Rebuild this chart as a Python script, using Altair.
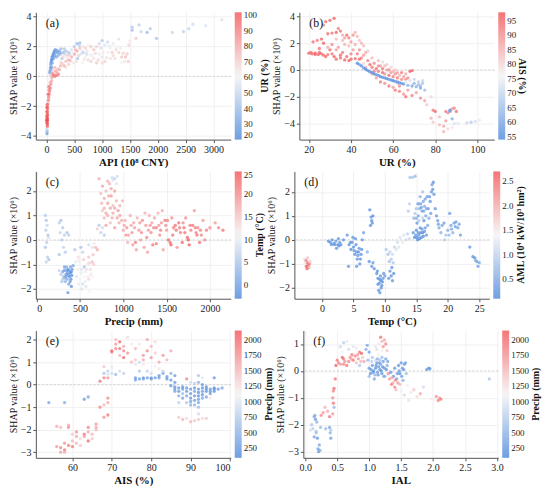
import altair as alt
import pandas as pd

# ---------------- data ----------------
# panel (a): API (10^8 CNY), SHAP value, UR (%)
pts_a = [
    (10,-3.85,30),(12,-3.7,38),(8,-3.55,50),(15,-3.35,98),(10,-3.15,100),(18,-3.0,99),(8,-2.9,100),(20,-2.85,97),
    (12,-2.75,100),(25,-2.6,95),(15,-2.5,96),(10,-2.35,100),(22,-2.2,93),(18,-2.05,95),(12,-1.9,98),(28,-1.85,90),
    (5,-3.0,100),(14,-2.95,100),(6,-2.65,99),(20,-3.2,97),(16,-2.4,94),(9,-2.1,99),
    (35,-1.6,92),(40,-1.4,90),(50,-1.2,88),(55,-1.0,92),(45,-0.9,85),(70,-0.8,90),(60,-0.65,80),(80,-0.5,88),
    (65,-0.4,75),(90,-0.3,82),(55,-0.2,60),(100,-0.1,80),(75,0.0,70),(110,0.05,85),(60,0.2,45),(130,0.1,90),
    (150,0.0,92),(170,0.05,88),(200,0.1,90),(220,0.15,85),(190,0.2,80),(85,0.3,65),(120,0.4,70),(40,-0.7,88),(30,-1.2,95),
    (70,0.45,30),(80,0.8,28),(90,1.1,25),(100,1.3,30),(120,1.5,28),(140,1.7,25),(160,1.8,30),(200,1.6,32),
    (230,1.7,35),(110,0.9,40),(130,1.2,35),(250,1.5,38),(180,1.3,35),(300,1.6,40),(280,1.2,45),(95,0.6,35),
    (150,1.4,32),(210,1.4,38),(350,1.7,42),(400,1.6,45),
    (150,0.6,75),(200,0.5,72),(250,0.7,78),(300,0.8,70),(350,1.0,75),(400,1.1,80),(450,1.3,78),(500,1.5,82),
    (550,1.7,80),(600,1.9,75),(350,0.6,65),(400,0.8,70),(250,1.0,60),(450,1.8,55),(500,2.0,45),(550,2.2,40),
    (600,2.25,42),(650,2.0,65),(420,1.5,50),(480,0.9,65),(560,1.2,45),(620,1.5,55),(700,1.3,60),(750,1.1,68),
    (800,1.0,70),(850,1.2,65),(900,0.9,72),(700,1.9,70),(750,2.1,62),(800,2.0,72),(850,1.8,75),(900,2.0,70),
    (950,2.2,50),(1000,2.4,45),(1050,2.1,55),(1100,2.3,50),(1150,1.9,60),(1200,2.2,65),(1250,1.8,68),(1300,1.6,70),
    (1350,1.3,72),(1400,1.0,65),(1000,1.3,55),(1050,1.0,70),(1100,1.6,62),(1200,1.4,68),(1450,1.5,72),(1480,2.1,70),
    (1500,2.4,60),(1000,0.9,68),(650,0.9,60),(950,1.5,58),(1300,2.5,55),(1350,0.9,60),(300,1.3,68),(380,1.4,72),
    (520,1.8,76),(580,1.4,70),(660,1.6,48),(720,1.5,52),(820,1.4,58),(1150,1.2,66),
    (60,0.3,32),(75,0.6,30),(85,0.95,26),(105,1.15,28),(115,1.35,27),(135,1.55,29),(170,1.65,31),(190,1.75,33),
    (240,1.6,36),(260,1.85,40),(320,1.85,44),(330,1.5,50),(360,1.25,62),(430,1.05,74),(470,1.6,60),(540,1.0,66),
    (590,2.1,48),(630,1.75,58),(680,1.15,64),(730,1.7,66),(780,1.45,62),(830,1.9,60),(880,1.55,68),(930,1.1,70),
    (980,1.9,52),(1020,1.6,64),(1080,1.25,66),(1130,2.05,58),(1180,1.6,70),(1230,1.2,66),(1270,2.0,62),
    (1330,1.9,64),(1380,1.55,70),(1420,1.3,74),(1470,1.0,72),(270,0.9,72),(320,0.7,76),(230,0.45,80),
    (170,0.35,82),(110,0.2,86),
    (1540,3.3,45),(1540,3.1,42),(1665,3.45,48),(1864,3.2,45),(1807,2.95,40),(1977,2.55,42),(2261,2.95,50),
    (2460,3.0,48),(2557,3.2,50),(2630,3.5,52),(2858,3.4,55),(3150,3.8,55),(1608,2.55,72),(1494,2.3,62),(1700,3.0,50),
]

# panel (b): UR (%), SHAP value, AIS (%)
pts_b = [
    (20,1.25,95),(21.5,1.2,96),(23,1.15,94),(24.5,1.15,95),(26,1.2,93),(22,2.1,94),(24,2.2,92),(26,2.3,95),
    (27,2.0,96),(27,3.35,90),(28,3.6,94),(30,3.7,95),(32,3.85,96),(29,2.7,94),(31,2.75,93),(33,2.8,95),
    (34,3.1,92),(35,2.9,94),(30,1.5,95),(32,1.0,96),(33,0.8,95),(35,0.9,94),(36,1.3,92),(37,1.9,85),
    (38,2.6,95),(39,2.4,92),(40,2.1,88),(41,2.6,90),(42,2.8,85),(43,2.5,84),(44,2.2,83),(45,2.0,85),
    (46,1.8,84),(38,1.0,95),(40,0.8,96),(42,0.85,94),(44,1.5,90),(36,2.2,84),(34,1.7,88),(31,1.2,93),
    (29,1.7,86),(33,2.3,84),(41,1.5,88),(39,0.7,95),(43,1.2,93),(28,1.0,95),(25,1.6,94),(37,0.75,96),
    (45,0.9,90),(47,1.3,86),
    (21,1.3,93),(23,1.25,96),(25,1.3,95),(27,1.1,94),(29,1.15,92),(31,1.9,90),(33,1.5,88),(35,1.1,95),
    (36,2.6,86),(37,2.4,88),(39,1.8,84),(40,1.2,92),(42,1.9,86),(44,0.8,95),(46,1.1,88),(48,1.4,82),
    (48,0.7,92),(49,0.4,95),(50,0.2,93),(51,0.5,90),(52,0.1,94),(53,-0.1,92),(54,0.3,88),(55,-0.2,95),
    (56,-0.3,90),(57,0.0,86),(58,-0.4,94),(59,-0.2,88),(60,-0.5,92),(61,-0.3,90),(62,-0.6,93),(63,-0.4,85),
    (64,-0.7,90),(65,-0.5,88),(66,-0.3,86),(67,-0.6,90),(68,-0.1,96),(69,-0.05,95),(50,-0.3,85),(52,-0.6,88),
    (54,-0.9,92),(56,-1.0,90),(58,-1.2,93),(60,-1.3,88),(62,-1.0,80),(53,0.7,84),(55,0.6,80),(57,0.4,82),
    (59,0.2,80),(61,0.0,82),(47,0.2,84),(49,-0.1,82),(46,0.5,80),
    (50,0.9,84),(51,-0.1,92),(53,0.3,90),(55,0.1,93),(56,0.3,84),(58,0.0,90),(60,-0.1,85),(62,-0.2,88),
    (64,-0.2,92),(66,-0.7,90),(63,-1.2,90),(61,-1.5,93),
    (43,0.5,56),(45,0.3,57),(47,0.05,56),(49,-0.15,58),(51,-0.3,56),(53,-0.4,57),(55,-0.55,58),(57,-0.65,56),
    (59,-0.75,57),(61,-0.85,58),(63,-0.95,57),(65,-1.05,58),(67,-1.15,62),(69,-1.2,60),(71,-1.25,62),
    (73,-1.35,60),(75,-1.5,65),(70,-0.7,70),(72,-0.9,68),(74,-1.0,66),(68,-0.8,72),(66,-0.9,74),(72,-1.1,65),
    (44,0.4,58),(46,0.15,57),(48,-0.05,56),(50,-0.2,57),(52,-0.35,58),(54,-0.5,56),(56,-0.6,57),(58,-0.7,58),
    (60,-0.8,56),(62,-0.9,57),(64,-1.0,58),(70,-1.0,63),(73,-1.2,64),(74,-0.8,70),
    (63,-1.6,92),(65,-1.8,90),(67,-1.5,88),(69,-1.9,92),(71,-1.7,88),(73,-2.1,90),(75,-2.3,86),(66,-2.0,94),
    (76,-2.6,82),(78,-2.0,80),
    (79,-3.0,92),(80,-3.1,95),(78,-3.6,85),(79,-3.9,82),(82,-4.1,84),(84,-4.2,86),(85,-3.8,88),(85,-3.1,92),
    (86,-3.2,90),(87,-3.0,55),(87,-3.1,60),(88,-2.9,88),(89,-2.85,92),(90,-3.1,94),(88,-3.65,62),(89,-4.0,72),
    (90,-4.0,75),(84,-4.6,85),(86,-4.4,80),(88,-4.3,78),(82,-3.5,84),(95,-3.95,70),(97,-3.9,68),(99,-3.85,72),
    (101,-3.75,74),(91,-4.0,74),
]

# panel (c): Precip (mm), SHAP value, Temp (°C)
pts_c = [
    (100,1.0,6),(110,0.8,5),(120,0.6,7),(105,0.4,6),(130,0.2,5),(115,-0.1,6),(100,-0.3,5),(125,-0.7,6),
    (110,-0.9,7),(140,-0.8,5),(135,0.1,8),(260,0.7,6),(280,0.8,5),(300,0.5,6),(270,0.3,7),(320,0.2,6),
    (350,0.3,5),(290,0.0,6),(310,-0.3,7),(330,-0.5,6),(260,-0.6,5),(370,0.2,6),
    (300,-1.3,2),(320,-1.1,1),(340,-1.4,0),(360,-1.2,-1),(380,-1.5,0),(400,-1.3,-2),(390,-1.1,1),(350,-1.6,2),
    (330,-1.7,3),(370,-1.8,1),(400,-1.9,-1),(360,-2.15,0),(410,-1.2,0),(280,-1.4,6),(290,-1.7,5),(310,-1.5,4),
    (420,-1.05,1),(345,-1.25,-1),(385,-1.35,-2),(395,-1.6,-1),(260,-1.25,7),(300,-1.6,6),(330,-1.2,5),
    (315,-1.25,1),(335,-1.5,0),(355,-1.35,1),(375,-1.25,-1),(365,-1.45,0),(345,-1.1,2),(385,-1.7,0),
    (325,-1.55,3),(405,-1.45,-1),
    (450,-0.9,10),(480,-0.7,13),(500,-1.0,11),(520,-1.2,9),(540,-0.8,14),(560,-1.3,10),(580,-1.0,12),(600,-0.7,15),
    (620,-1.2,13),(640,-0.9,16),(460,-1.5,9),(500,-1.6,11),(530,-1.8,8),(560,-1.7,10),(590,-1.5,12),(520,-2.0,9),
    (610,-2.1,11),(470,-1.2,12),(550,-1.1,5),(510,-0.3,5),(530,-0.5,7),(600,-0.2,8),(640,-0.3,9),(660,-0.15,12),
    (680,-0.3,16),(700,-0.4,17),(440,-0.4,6),(600,-1.6,13),(640,-1.5,11),(660,-1.0,14),
    (490,-0.85,12),(515,-1.35,10),(545,-1.5,11),(575,-1.2,13),(605,-0.95,14),(625,-1.4,12),(485,-1.8,10),
    (570,-1.9,9),(650,-0.6,15),
    (720,2.5,17),(740,1.9,16),(760,2.2,18),(780,1.7,17),(800,2.0,16),(820,1.5,18),(840,2.3,17),(860,1.8,19),
    (880,1.4,16),(900,2.0,18),(920,1.6,17),(940,1.2,19),(960,1.0,18),(980,0.8,17),(760,1.2,15),(780,0.9,16),
    (800,0.6,18),(820,1.0,17),(850,0.7,16),(870,2.55,8),(880,2.45,9),(900,2.5,7),(920,2.3,9),(930,2.6,8),
    (720,0.6,6),(740,0.3,7),(760,0.5,8),(780,0.2,6),(700,0.45,14),(880,1.1,18),(900,0.5,18),(950,0.7,17),
    (990,1.6,16),(820,2.4,17),(860,2.1,18),(750,1.5,16),
    (780,1.3,17),(800,1.1,18),(830,1.8,17),(850,1.3,18),(870,0.9,17),(900,1.3,18),(930,0.9,18),(960,1.4,17),
    (1000,0.4,18),(1020,0.8,17),(1040,0.5,19),(1060,0.2,18),(1080,1.0,17),(1100,0.3,19),(1120,0.7,18),(1140,-0.1,21),
    (1160,0.9,17),(1180,0.4,19),(1200,0.0,18),(1220,0.8,20),(1240,-0.3,18),(1260,0.6,19),(1280,-0.5,18),(1300,1.0,17),
    (1320,0.3,20),(1340,-0.2,22),(1360,0.9,18),(1380,0.5,21),(1400,1.1,17),(1420,0.2,20),(1440,0.7,19),(1460,-0.4,18),
    (1480,0.8,21),(1500,0.4,19),(1520,0.0,23),(1540,-0.1,22),(1560,0.9,20),(1580,0.5,21),(1600,0.6,22),(1620,-0.3,19),
    (1640,0.7,22),(1660,0.3,21),(1680,-0.1,23),(1700,0.5,22),(1720,0.9,20),(1740,0.1,23),(1760,-0.2,24),(1780,0.4,21),
    (1800,0.6,22),(1820,1.2,19),(1840,0.3,21),(1860,0.5,20),(1880,-0.1,22),(1900,0.2,21),(1920,0.8,19),(1940,0.0,20),
    (1960,0.4,21),(2000,0.5,20),(2060,0.7,19),(2100,0.5,20),(2150,0.4,22),(1050,-0.1,17),(1150,-0.4,18),(1250,1.1,17),
    (1330,0.7,18),(1450,1.2,17),(1550,-0.2,24),(1750,0.0,24),(1270,0.1,20),(1380,-0.15,21),
    (1010,0.6,18),(1030,0.2,19),(1090,0.6,18),(1110,-0.2,19),(1130,0.5,18),(1190,0.7,19),(1210,0.3,20),
    (1290,0.4,19),(1310,0.6,19),(1350,0.5,20),(1410,0.6,19),(1430,0.4,21),(1490,0.6,20),(1510,0.8,21),
    (1570,0.2,22),(1610,0.4,22),(1650,0.5,21),(1690,0.7,20),(1710,0.3,22),(1770,0.6,21),(1830,0.5,21),
    (1850,0.2,22),(1890,0.4,21),
]

# panel (d): Temp (°C), SHAP value, AML
pts_d = [
    (-2.6,-0.85,2.5),(-2.4,-0.95,2.6),(-2.2,-1.05,2.4),(-2.5,-1.1,2.6),(-2.0,-1.0,2.3),(-2.3,-0.75,1.8),
    (-2.7,-0.95,1.5),(-2.1,-1.15,2.0),(-2.8,-0.8,1.2),(-1.9,-0.9,1.7),(-2.4,-1.2,2.5),
    (1.0,-0.05,0.3),(1.3,-0.1,0.25),(1.6,0.0,0.3),(1.9,-0.15,0.3),(2.2,-0.05,0.35),(2.5,-0.2,0.3),(2.8,-0.1,0.35),
    (3.0,-0.2,0.3),(2.3,-0.35,0.3),(2.6,0.05,0.35),(3.4,0.0,0.3),(1.5,-0.2,0.28),(2.0,-0.2,0.3),(2.7,-0.25,0.3),
    (4.0,0.2,0.3),(4.3,-0.2,0.3),(4.6,-0.4,0.25),(4.9,0.1,0.3),(5.0,-0.3,0.25),(5.2,-0.6,0.3),(5.4,-0.2,0.3),
    (5.6,-0.8,0.25),(5.8,-0.5,0.3),(6.0,-1.0,0.3),(6.2,-0.6,0.25),(6.4,0.0,0.35),(5.5,-1.1,0.3),(4.8,-0.1,0.3),
    (6.6,0.3,0.4),(4.2,-1.1,0.3),(5.3,0.05,0.35),(5.9,-0.35,0.3),(6.1,-0.8,0.28),
    (4.5,-0.1,0.3),(5.1,-0.45,0.3),(5.7,-0.65,0.3),(6.3,-0.4,0.3),(5.5,-0.5,0.28),
    (7.6,1.25,0.25),(7.8,0.95,0.3),(7.9,0.8,0.25),(8.0,0.7,0.3),(8.1,1.0,0.25),(7.7,0.6,0.3),(7.5,-0.9,0.3),
    (7.9,-1.1,0.3),(8.3,-1.2,0.3),(8.1,-0.95,0.35),(7.2,-0.5,0.6),
    (8.7,-1.4,0.3),(8.9,-1.6,0.25),(9.1,-1.8,0.3),(9.3,-1.5,0.3),(9.5,-1.9,0.25),(9.7,-1.6,0.35),(9.0,-2.1,0.3),
    (9.2,-2.2,0.3),(9.8,-1.4,0.3),(8.8,-1.3,0.3),(9.4,-1.7,0.3),(10.0,-1.5,0.4),
    (9.2,-1.65,0.3),(9.6,-1.75,0.3),(8.9,-1.85,0.3),(9.4,-2.0,0.3),
    (10.2,-0.4,0.9),(10.5,-0.6,0.8),(10.8,-0.5,1.0),(11.0,-0.8,0.9),(11.2,-0.6,1.1),(11.5,-0.3,1.0),(11.8,-0.4,1.2),
    (12.0,-0.1,1.1),(10.7,-0.9,0.8),(11.3,-0.95,0.9),
    (10.8,-1.3,0.3),(11.0,-1.5,0.25),(11.2,-1.7,0.3),(11.4,-1.4,0.3),(11.1,-1.15,0.3),(10.6,-1.6,0.3),
    (12.4,0.1,1.2),(12.8,-0.1,1.3),(13.0,0.2,1.2),(13.4,0.0,1.1),(13.6,0.25,1.0),(13.9,0.05,1.1),(12.2,-0.3,1.2),
    (13.7,1.2,0.9),(13.9,1.5,1.0),(14.0,2.6,0.8),(14.4,2.6,0.9),(14.8,2.65,0.7),
    (14.5,0.3,0.3),(14.7,0.1,0.25),(15.0,0.4,0.3),(15.2,0.0,0.25),(15.4,0.2,0.3),(15.6,0.5,0.25),(15.8,0.1,0.3),
    (16.0,0.3,0.25),(15.1,0.7,0.3),(15.3,1.0,0.5),(15.5,1.3,0.6),(15.7,1.5,0.5),(15.9,1.2,0.4),(16.1,1.6,0.5),
    (16.3,1.4,0.6),(16.5,1.0,0.5),(16.7,1.8,0.4),(15.2,1.5,0.7),(15.6,1.8,0.6),(16.0,2.0,0.8),(14.8,1.1,0.9),
    (16.2,0.8,0.3),(16.4,0.5,0.35),(16.6,0.2,0.3),(16.8,0.6,0.5),(17.0,0.9,0.6),(15.4,0.8,0.9),(16.0,0.9,1.0),
    (15.0,1.3,0.8),(14.6,0.9,0.7),(16.9,1.3,0.4),
    (14.9,0.2,0.3),(15.1,0.1,0.25),(15.3,0.3,0.3),(15.5,0.05,0.25),(15.7,0.3,0.28),(15.9,0.45,0.3),
    (16.1,0.15,0.25),(16.3,0.35,0.3),(15.4,1.5,0.5),(15.8,1.35,0.45),(16.2,1.2,0.5),(16.4,1.7,0.45),
    (15.0,0.9,0.6),(16.6,1.3,0.5),
    (17.2,1.6,0.3),(17.4,2.0,0.35),(17.5,2.3,0.4),(17.7,2.4,0.3),(17.8,1.9,0.35),(17.3,1.1,0.4),(18.0,1.3,0.3),
    (18.2,1.0,0.35),(17.1,1.8,0.35),(17.6,2.1,0.3),
    (18.4,0.8,0.4),(18.6,0.5,0.5),(18.9,0.3,0.6),(19.1,0.6,0.5),(19.4,0.7,0.4),(19.7,0.2,0.8),(20.0,0.4,0.6),
    (20.3,1.1,0.4),(20.5,0.6,0.5),(20.8,0.3,0.6),(21.0,0.7,0.35),(21.3,0.75,0.4),(21.6,0.5,0.45),(22.0,0.2,0.4),
    (19.5,0.0,0.9),(20.2,0.2,0.7),(21.8,0.65,0.5),(18.5,0.65,0.45),(20.6,0.45,0.5),(21.2,0.55,0.4),
    (23.5,-0.3,0.3),(24.0,-0.7,0.25),(24.3,-0.75,0.3),(24.6,-0.9,0.35),(24.8,-1.1,0.4),(25.0,-0.95,0.5),(24.4,-0.85,0.6),
]

# panel (e): AIS (%), SHAP value, Precip (mm)
pts_e = [
    (54,-0.8,400),(58,-0.8,450),(63,-0.65,350),(64,-0.55,400),
    (56,-2.75,1700),(56,-1.85,1600),(57,-2.8,1800),(57,-3.0,1650),(57,-1.9,1500),(58,-2.9,1900),(58,-2.6,1700),
    (58,-3.0,1600),(59,-2.7,1850),(59,-1.9,1750),(59,-1.8,1600),(60,-2.75,1900),(60,-2.5,1500),(60,-2.2,1400),
    (61,-2.1,1750),(61,-2.3,1600),(61,-2.6,1500),(62,-2.7,1400),(62,-2.4,1300),(63,-2.2,1900),(63,-2.3,1700),
    (64,-1.9,1800),(64,-2.5,2000),(64,-2.1,1600),(65,-2.2,1500),(65,-2.4,1400),(66,-1.75,1700),(66,-1.9,1600),
    (66,-2.0,1500),
    (67,-1.0,1800),(67,0.15,1900),(68,-1.45,1700),(68,-0.9,1500),(68,0.3,1800),(68,0.8,1400),(69,-0.6,1800),
    (69,-0.8,1600),(69,-1.35,1900),(69,0.3,1700),(69,0.45,1000),(70,0.5,900),
    (70,1.5,2000),(70,1.45,1900),(70,0.8,1200),(71,1.6,1800),(71,1.8,1700),(71,2.0,1500),(72,1.9,2000),
    (72,1.6,1900),(72,1.3,1500),(72,0.6,900),(73,1.5,1800),(73,1.2,2000),(73,1.7,1600),(73,0.5,800),
    (74,1.4,1700),(74,2.1,1300),(75,1.0,1500),(75,1.8,1200),(71,0.45,600),(69,0.6,800),(68,0.5,700),(70,0.7,1100),
    (76,0.2,400),(76,0.9,1000),(76,1.1,1400),(77,0.25,350),(77,1.0,900),(77,0.6,700),(78,0.25,400),(78,1.1,1600),
    (78,1.3,1700),(78,0.9,1200),(79,0.3,350),(79,1.5,1800),(79,2.0,1600),(79,0.6,800),(80,0.3,400),(80,1.2,1700),
    (80,1.7,1500),(80,0.5,900),(81,0.3,350),(81,1.4,1400),(81,0.8,1100),(82,0.4,300),(82,1.0,1600),(82,0.7,1200),
    (83,0.5,400),(83,1.3,1700),(83,0.6,800),(84,0.35,350),(84,1.1,1500),(85,0.2,300),(85,0.5,500),(85,1.5,1600),
    (76,1.6,1500),(81,1.9,1300),(77,1.8,1200),
    (76,0.3,300),(78,0.3,350),(80,0.25,300),(82,0.3,350),(84,0.25,300),
    (86,0.1,300),(86,-0.1,250),(86,-0.3,400),(87,-0.15,300),(87,-0.5,500),(87,-0.8,800),(87,-1.45,1400),
    (88,-0.2,300),(88,-0.4,600),(88,-0.6,350),(88,-1.55,1500),(89,0.25,1800),(89,-0.3,300),(89,-0.5,400),
    (89,-0.8,700),(90,-0.2,300),(90,-0.6,250),(90,-1.65,1500),(90,-0.9,500),(91,-0.3,400),(91,-0.7,350),
    (91,-1.6,1400),(92,0.4,700),(92,0.1,500),(92,-0.2,300),(92,-0.5,250),(92,-0.8,400),(92,-1.0,600),
    (92,-1.3,900),(93,0.0,300),(93,-0.3,350),(93,-0.6,400),(93,-1.5,1300),(94,-0.1,250),(94,-0.3,300),
    (94,-0.55,400),(94,-1.5,1400),(95,-0.2,300),(95,-0.4,350),(95,-0.6,1200),(96,0.3,300),(96,-0.15,300),
    (96,-0.3,250),(97,-0.2,300),(98,-0.15,400),(86,0.4,350),(85,-0.05,300),(91,0.05,800),(93,0.3,1000),(90,0.1,900),
    (86,-0.2,300),(87,-0.3,300),(88,-0.1,250),(89,-0.15,300),(90,-0.4,300),(91,-0.15,300),(91,-0.5,300),
    (92,-0.35,250),(92,-0.65,350),(93,-0.15,250),(93,-0.45,300),(94,-0.2,250),(95,-0.3,300),(96,-0.2,250),
    (90,-0.75,400),(91,-0.9,500),(89,-1.5,1300),(92,-1.55,1400),
]

# panel (f): IAL, SHAP value, Precip (mm)
pts_f = [
    (0.1,-2.0,700),(0.12,-2.15,800),(0.14,-1.7,400),(0.15,-1.65,500),(0.16,-1.8,300),(0.17,-2.3,600),
    (0.18,-1.9,500),(0.19,-2.5,300),(0.2,-2.9,350),(0.21,-3.0,300),(0.22,-2.75,400),(0.23,-2.95,500),
    (0.17,-2.25,700),(0.08,-2.2,900),(0.14,-2.45,400),(0.24,-2.1,600),
    (0.25,-1.65,1800),(0.28,-1.55,1700),(0.31,-1.35,1500),(0.35,-1.5,1600),(0.38,-1.7,1900),(0.32,-2.15,600),
    (0.38,-2.1,400),(0.39,-2.3,500),(0.4,-2.5,350),(0.4,-2.2,700),(0.43,-1.6,1700),(0.44,-1.2,1900),
    (0.43,-1.0,1800),(0.44,-0.75,1800),(0.45,-0.65,2000),(0.45,-1.35,600),(0.47,-0.3,1900),(0.48,0.2,2000),
    (0.5,0.4,1900),(0.52,0.3,1800),
    (0.55,0.25,1700),(0.58,0.5,2000),(0.6,0.25,1800),(0.62,0.35,1700),(0.65,0.2,1900),(0.55,0.9,900),
    (0.58,0.7,1100),(0.6,1.05,800),(0.65,1.1,1200),(0.68,0.8,900),(0.7,0.5,1700),(0.72,0.45,1600),
    (0.75,0.4,1900),(0.78,0.55,1800),(0.8,0.3,1500),(0.82,0.6,1700),(0.85,0.7,1900),(0.88,0.65,2000),
    (0.9,0.5,1400),(0.92,0.35,1600),(0.95,0.8,500),(0.97,0.95,400),(1.0,0.7,350),(0.98,0.4,600),
    (0.85,0.2,700),(0.75,0.9,1000),(0.8,0.85,1200),
    (0.6,0.45,1900),(0.68,0.35,1800),(0.73,0.6,1900),(0.83,0.45,1700),(0.87,0.35,1500),
    (1.0,0.1,300),(1.02,-0.1,250),(1.05,0.2,350),(1.07,0.0,300),(1.08,-0.3,400),(1.1,0.1,250),(1.12,0.3,300),
    (1.13,-0.05,350),(1.15,0.15,300),(1.17,0.05,250),(1.18,0.25,400),(1.2,-0.1,300),(1.22,0.35,350),
    (1.24,0.1,300),(1.26,0.45,400),(1.28,0.2,500),(1.05,0.5,700),(1.1,0.4,900),(1.15,0.6,1100),(1.2,0.5,600),
    (1.0,-0.2,600),(1.04,0.35,800),(1.09,-0.15,500),(1.25,-0.2,700),
    (1.03,0.05,300),(1.06,-0.05,250),(1.11,0.2,300),(1.14,-0.15,300),(1.16,0.3,350),(1.19,0.0,300),
    (1.21,0.15,250),(1.23,-0.2,400),(1.27,0.05,300),(1.29,0.35,400),(1.13,0.45,500),(1.17,0.4,700),
    (1.12,0.8,1300),(1.15,1.0,1200),(1.18,1.25,1900),(1.2,1.1,1500),(1.22,0.9,1700),(1.24,1.15,1600),
    (1.26,1.0,1800),(1.28,0.75,1400),(1.1,0.9,1000),(1.2,0.75,1100),
    (1.3,-0.1,1800),(1.32,-0.3,1700),(1.35,-0.5,1900),(1.37,-0.45,1600),(1.4,-0.6,1800),(1.42,-0.7,1500),
    (1.45,-0.45,1700),(1.34,-0.05,300),(1.38,-0.2,250),(1.4,0.1,300),(1.43,-0.3,350),(1.46,0.2,300),
    (1.48,-0.1,250),(1.5,0.3,300),(1.52,0.1,350),(1.55,0.25,300),(1.57,0.3,400),(1.53,-0.35,500),
    (1.58,-0.1,600),(1.6,-0.55,1100),(1.65,-0.8,1200),(1.7,-0.7,1400),(1.75,-0.95,1300),(1.8,-0.85,1600),
    (1.62,-1.1,1000),(1.55,-0.9,900),(1.5,-0.75,1100),(1.48,-0.5,1500),
    (1.36,-0.25,1600),(1.41,-0.35,1800),(1.44,-0.1,300),(1.47,0.0,300),(1.51,-0.2,350),(1.54,0.05,300),
    (1.9,0.05,300),(1.93,0.1,350),(1.95,0.08,300),(1.85,-0.6,900),(1.98,-1.05,1200),(2.05,-0.95,1700),
    (2.08,-1.1,1800),(2.1,-1.0,1600),(2.12,-1.05,1900),(2.88,-0.3,700),
]

panel_labels = ["(a)", "(b)", "(c)", "(d)", "(e)", "(f)"]
x_titles = ["API (10⁸ CNY)", "UR (%)", "Precip (mm)", "Temp (°C)", "AIS (%)", "IAL"]
color_titles = ["UR (%)", "AIS (%)", "Temp (°C)", "AML (10⁴ kW/10³ hm²)", "Precip (mm)", "Precip (mm)"]
y_title = "SHAP value (×10⁶)"

x_ticks = [[0, 500, 1000, 1500, 2000, 2500, 3000], [20, 40, 60, 80, 100], [0, 500, 1000, 1500, 2000],
           [0, 5, 10, 15, 20, 25], [60, 70, 80, 90, 100], [0.0, 0.5, 1.0, 1.5, 2.0, 2.5, 3.0]]
y_ticks = [[-4, -2, 0, 2, 4], [-4, -2, 0, 2, 4], [-2, -1, 0, 1, 2], [-2, -1, 0, 1, 2],
           [-3, -2, -1, 0, 1, 2], [-3, -2, -1, 0, 1]]
c_ticks = [[20, 30, 40, 50, 60, 70, 80, 90, 100], [55, 60, 65, 70, 75, 80, 85, 90, 95],
           [0, 5, 10, 15, 20, 25], [0.5, 1.0, 1.5, 2.0, 2.5],
           [250, 500, 750, 1000, 1250, 1500, 1750, 2000], [250, 500, 750, 1000, 1250, 1500, 1750, 2000]]
x_domains = [[-190, 3310], [15.5, 108], [-10, 2240], [-4.4, 26.6], [50.7, 100.2], [-0.03, 3.02]]
y_domains = [[-4.25, 4.3], [-5.2, 4.3], [-2.4, 2.8], [-2.45, 2.85], [-3.25, 2.4], [-3.23, 1.5]]
c_domains = [[20, 102], [54, 98], [-3, 25], [0.1, 2.7], [100, 2150], [100, 2150]]
x_formats = ["d", "d", "d", "d", "d", ".1f"]
c_formats = ["d", "d", "d", ".1f", "d", "d"]
legend_angles = [270, 90, 270, 270, 270, 270]

FONT = "Liberation Serif"
BLUE, MID, RED = "#3f7fd9", "#f3f3f3", "#f2474a"
W, H = 196, 128


def panel(i, pts):
    df = pd.DataFrame(pts, columns=["x", "y", "c"])
    lo, hi = c_domains[i]
    y_enc = alt.Y("y:Q", title=y_title,
                  scale=alt.Scale(domain=y_domains[i], nice=False, zero=False),
                  axis=alt.Axis(values=y_ticks[i], format="d", titleFontWeight="normal",
                                titleFontSize=10, labelOverlap=False, labelSeparation=0))
    pts_layer = alt.Chart(df).mark_circle(size=11, opacity=0.75).encode(
        x=alt.X("x:Q", title=x_titles[i],
                scale=alt.Scale(domain=x_domains[i], nice=False, zero=False),
                axis=alt.Axis(values=x_ticks[i], format=x_formats[i], titleFontWeight="bold",
                              labelOverlap=False)),
        y=y_enc,
        color=alt.Color("c:Q", title=None,
                        scale=alt.Scale(domain=[lo, (lo + hi) / 2, hi], range=[BLUE, MID, RED],
                                        interpolate="rgb"),
                        legend=alt.Legend(values=c_ticks[i], format=c_formats[i])),
    )
    zero = alt.Chart(pd.DataFrame({"y": [0]})).mark_rule(
        color="#d2d2d2", strokeDash=[2, 2], strokeWidth=1
    ).encode(y=y_enc)
    lab = alt.Chart(pd.DataFrame({"t": [panel_labels[i]]})).mark_text(
        font=FONT, fontSize=12, align="left", baseline="middle", color="#111"
    ).encode(text="t:N", x=alt.value(10), y=alt.value(11))
    return alt.layer(zero, pts_layer, lab).properties(width=W, height=H)


def legend_title(i):
    return alt.Chart(pd.DataFrame({"t": [color_titles[i]]})).mark_text(
        font=FONT, fontSize=10, fontWeight="bold", angle=legend_angles[i],
        align="center", baseline="middle", color="#111"
    ).encode(text="t:N", x=alt.value(5), y=alt.value(H / 2)).properties(width=11, height=H)


all_pts = [pts_a, pts_b, pts_c, pts_d, pts_e, pts_f]

rows = []
for r in range(3):
    i, j = 2 * r, 2 * r + 1
    row = alt.hconcat(panel(i, all_pts[i]), legend_title(i), panel(j, all_pts[j]), legend_title(j),
                      spacing=1).resolve_scale(
        color="independent", x="independent", y="independent"
    ).resolve_legend(color="independent")
    rows.append(row)

chart = alt.vconcat(*rows, spacing=4).resolve_scale(
    color="independent", x="independent", y="independent"
).resolve_legend(color="independent").properties(
    padding={"top": 2, "left": 0, "right": 0, "bottom": 0}
).configure_view(
    stroke=None
).configure_axis(
    labelFont=FONT, titleFont=FONT, labelFontSize=10, titleFontSize=11,
    labelColor="#222", titleColor="#111", domainColor="#555", tickColor="#555",
    tickSize=3, gridColor="#f0f0f0", labelPadding=2, titlePadding=2, labelOverlap=False,
).configure_legend(
    orient="right", offset=4, gradientLength=H, gradientThickness=7,
    gradientStrokeWidth=0, labelFont=FONT, labelFontSize=9, labelColor="#222",
    labelOffset=2,
)

chart.save("out.html", embed_options={"renderer": "svg", "actions": False})
